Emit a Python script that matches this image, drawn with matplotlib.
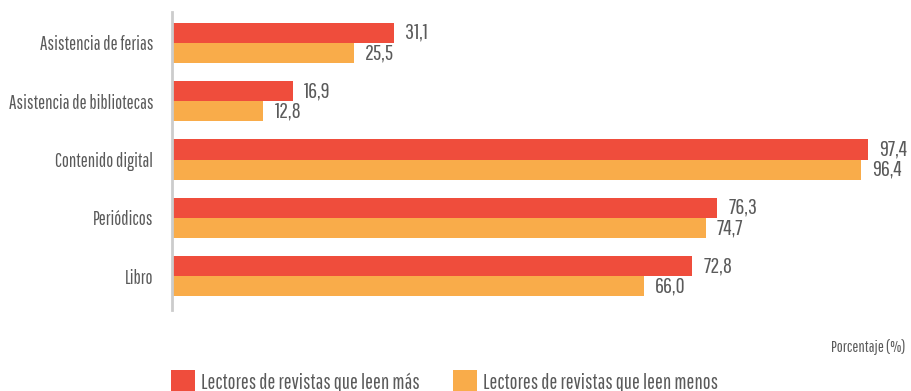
import matplotlib.pyplot as plt
import numpy as np

plt.rcParams['font.family'] = ['Pathway Gothic One', 'DejaVu Sans']

categorias = ["Asistencia de ferias", "Asistencia de bibliotecas", "Contenido digital",
              "Periódicos", "Libro"]
leen_mas = [31.1, 16.9, 97.4, 76.3, 72.8]
leen_menos = [25.5, 12.8, 96.4, 74.7, 66.0]
series = ["Lectores de revistas que leen más", "Lectores de revistas que leen menos"]

rojo = "#EF4D3C"
naranja = "#F9AC4A"
gris = "#5a5a5a"

W, H = 912, 391
fig = plt.figure(figsize=(W / 100, H / 100), dpi=100)
ax = fig.add_axes([172 / W, (H - 310) / H, 714.6 / W, 298 / H])

y = np.arange(len(categorias))
h = 0.345
b1 = ax.barh(y - h / 2, leen_mas, height=h, color=rojo, label=series[0])
b2 = ax.barh(y + h / 2, leen_menos, height=h, color=naranja, label=series[1])

def etiquetas(barras, vals):
    for r, v in zip(barras, vals):
        ax.annotate(f"{v:.1f}".replace(".", ","),
                    (r.get_width(), r.get_y() + r.get_height() / 2),
                    xytext=(8, 0), textcoords="offset points",
                    ha="left", va="center", fontsize=16, color=gris)

etiquetas(b1, leen_mas)
etiquetas(b2, leen_menos)

ax.set_xlim(0, 100)
ax.set_ylim(4.58, -0.53)
ax.set_yticks(y)
ax.set_yticklabels(categorias, fontsize=13.5, color=gris)
ax.tick_params(axis="y", length=0, pad=13.5)
ax.set_xticks([])
for s in ["top", "right", "bottom"]:
    ax.spines[s].set_visible(False)
ax.spines["left"].set_color("#cccccc")
ax.spines["left"].set_linewidth(2)

fig.text(905 / W, 1 - 347 / H, "Porcentaje (%)", ha="right", va="center",
         fontsize=11.5, color=gris)

fig.legend(handles=[b1, b2], loc="lower left", bbox_to_anchor=(171 / W, -0.005),
           ncol=2, frameon=False, fontsize=15, labelcolor=gris,
           borderpad=0, borderaxespad=0,
           handlelength=1.15, handleheight=1.3, handletextpad=0.29,
           columnspacing=1.6)

fig.savefig("out.png", dpi=100)
